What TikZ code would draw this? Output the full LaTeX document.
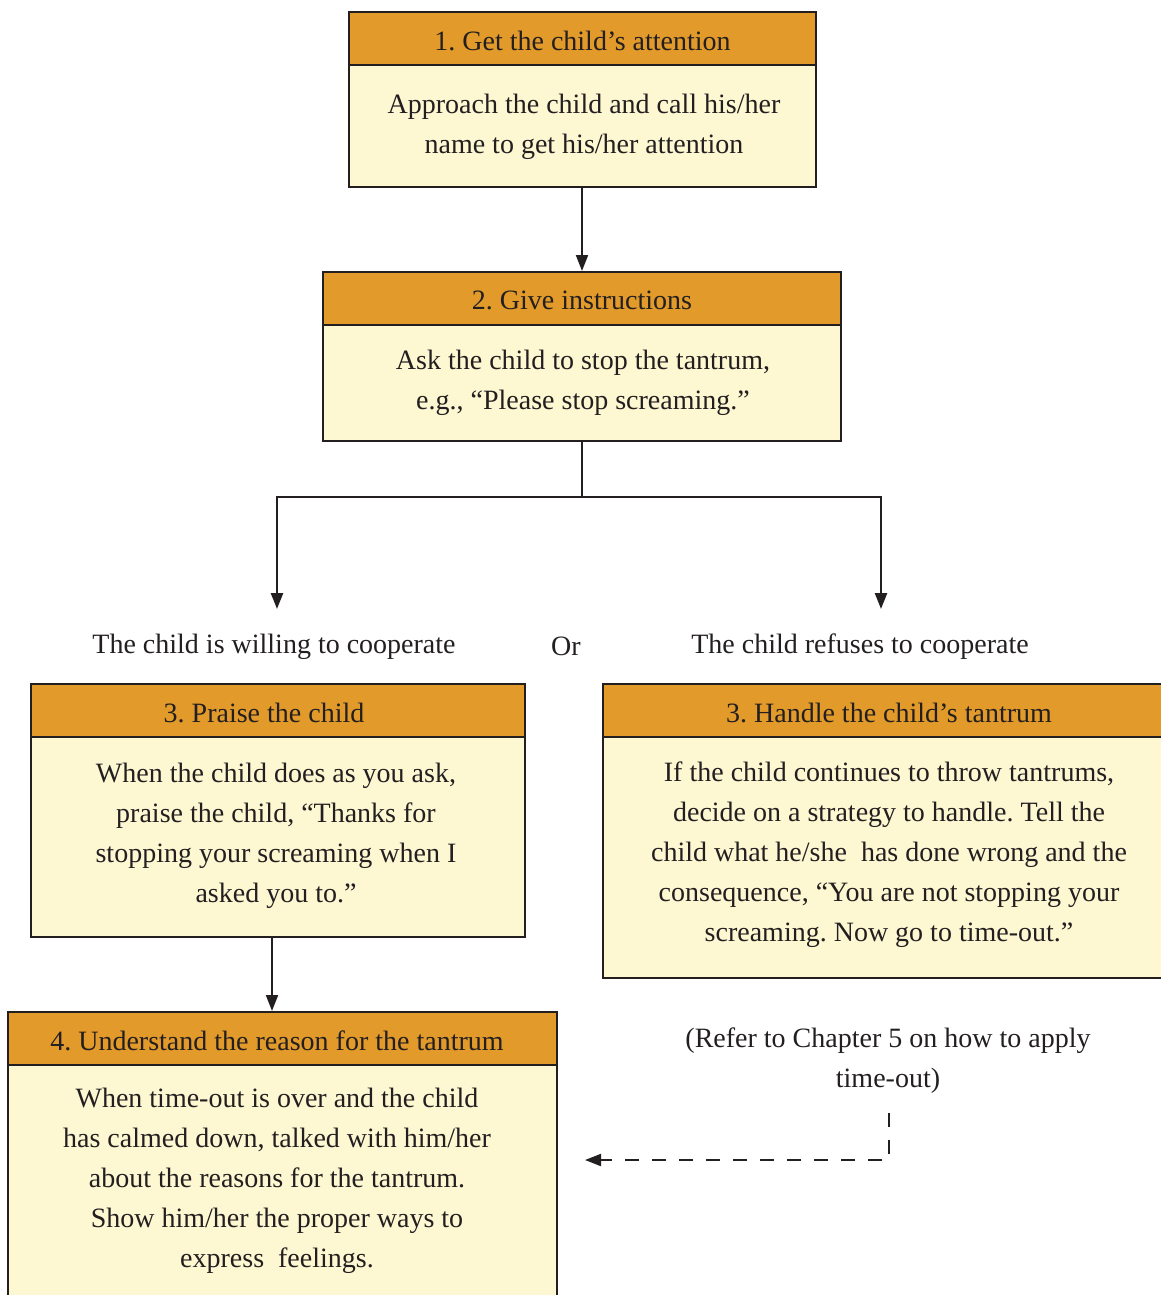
\documentclass[tikz,border=0pt]{standalone}
\usepackage{fontspec}
\setmainfont{Liberation Serif}
\usetikzlibrary{arrows.meta}
\definecolor{hc}{HTML}{E29A2A}
\definecolor{bc}{HTML}{FDF7D2}
\definecolor{lc}{HTML}{231F20}
\definecolor{tc}{HTML}{231F20}
\frenchspacing
\begin{document}
\begin{tikzpicture}[x=1pt,y=-1pt,
  txt/.style={font=\fontsize{28}{40}\selectfont\frenchspacing, text=tc, align=center, inner sep=0pt},
  hdr/.style={draw=lc, fill=hc, line width=2pt, minimum height=53pt, inner sep=0pt},
  bdy/.style={draw=lc, fill=bc, line width=2pt, inner sep=0pt},
  conn/.style={draw=lc, line width=2pt},
  arr/.style={conn, -{Triangle[length=16pt,width=12pt]}},
  darr/.style={conn, dash pattern=on 14pt off 13pt, -{Triangle[length=16pt,width=12pt]}}
]
\useasboundingbox (0,0) rectangle (1161,1295);
\clip (0,0) rectangle (1161,1295);

% Box 1
\node[bdy, minimum width=467pt, minimum height=122pt] (b1) at (582.5,126) {};
\node[hdr, minimum width=467pt] (h1) at (582.5,38.5) {};
\node[txt] (th1) at (582.5,40.5) {1. Get the child’s attention};
\node[txt] (tb1) at (584,127)
  {Approach the child and call his/her\\name to get his/her attention};

% Box 2
\node[bdy, minimum width=518pt, minimum height=116pt] (b2) at (582,383) {};
\node[hdr, minimum width=518pt] (h2) at (582,298.5) {};
\node[txt] (th2) at (582,300.5) {2. Give instructions};
\node[txt] (tb2) at (583,383)
  {Ask the child to stop the tantrum,\\e.g., “Please stop screaming.”};

% branch labels
\node[txt] (lw) at (274,647) {The child is willing to cooperate};
\node[txt] (lor) at (566,646) {Or};
\node[txt] (lr) at (860,647) {The child refuses to cooperate};

% Box 3 left
\node[bdy, minimum width=494pt, minimum height=200pt] (b3l) at (278,837) {};
\node[hdr, minimum width=494pt] (h3l) at (278,710.5) {};
\node[txt] (th3l) at (264,712.5) {3. Praise the child};
\node[txt] (tb3l) at (276,836)
  {When the child does as you ask,\\praise the child, “Thanks for\\stopping your screaming when I\\asked you to.”};

% Box 3 right
\node[bdy, minimum width=562pt, minimum height=241pt] (b3r) at (884,857.5) {};
\node[hdr, minimum width=562pt] (h3r) at (884,710.5) {};
\node[txt] (th3r) at (889,712.5) {3. Handle the child’s tantrum};
\node[txt] (tb3r) at (889,855)
  {If the child continues to throw tantrums,\\decide on a strategy to handle. Tell the\\child what he/she\ \ has done wrong and the\\consequence, “You are not stopping your\\screaming. Now go to time-out.”};

% Box 4
\node[bdy, minimum width=549pt, minimum height=250pt] (b4) at (282.5,1190) {};
\node[hdr, minimum width=549pt] (h4) at (282.5,1038.5) {};
\node[txt] (th4) at (277,1040.5) {4. Understand the reason for the tantrum};
\node[txt] (tb4) at (277,1181)
  {When time-out is over and the child\\has calmed down, talked with him/her\\about the reasons for the tantrum.\\Show him/her the proper ways to\\express\ \ feelings.};

% note
\node[txt] (note) at (888,1061) {(Refer to Chapter 5 on how to apply\\time-out)};

% connectors
\draw[arr] (b1.south -| b2.north) -- (h2.north);
\coordinate (j) at (582,497);
\coordinate (tl) at (277,609);
\coordinate (tr) at (881,609);
\draw[conn] (b2.south) -- (j);
\draw[arr, line width=2.5pt] (j) -| (tl);
\draw[arr, line width=2.5pt] (j) -| (tr);
\coordinate (ax) at (272,0);
\draw[arr] (b3l.south -| ax) -- (h4.north -| ax);
\coordinate (ds) at (889,1113);
\coordinate (de) at (585,1160);
\draw[darr] (ds) |- (de);
\end{tikzpicture}
\end{document}
